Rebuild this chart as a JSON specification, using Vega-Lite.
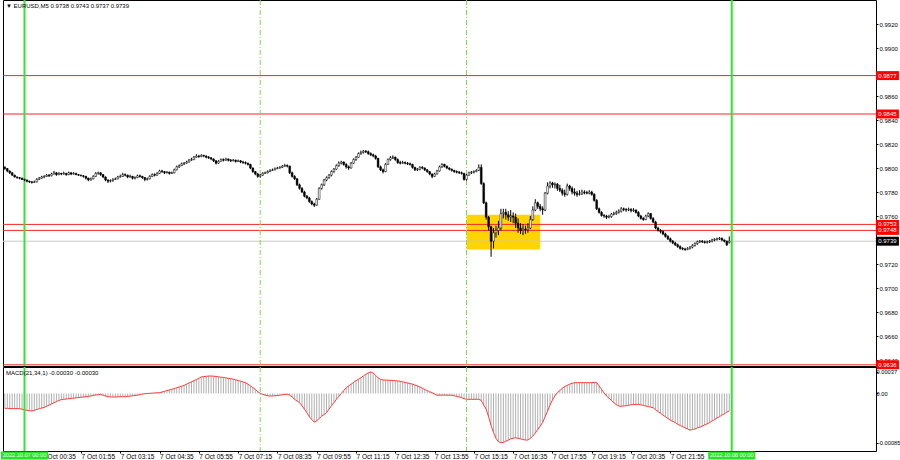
{
"$schema": "https://vega.github.io/schema/vega-lite/v6.json",
"padding": {"left": 0, "top": -2, "right": 0, "bottom": 0},
"background": "#ffffff",
"spacing": 1,
"bounds": "flush",
"config": {"view": {"stroke": "#000000", "strokeWidth": 1}, "font": "Liberation Sans"},
"datasets": {
"levels": [{"p":0.9877,"kind":"level"},{"p":0.9845,"kind":"level"},{"p":0.9753,"kind":"level"},{"p":0.9748,"kind":"level"},{"p":0.9636,"kind":"level"},{"p":0.9739,"kind":"bid"}],
"days": [{"t":"2022-10-07T00:00"},{"t":"2022-10-08T00:00"}],
"seps": [{"t":"2022-10-07T08:00"},{"t":"2022-10-07T15:00"}],
"bars": [
{"t":"2022-10-06T23:20","o":0.98005,"h":0.98015,"l":0.97985,"c":0.97995,"m":-0.000255},
{"t":"2022-10-06T23:25","o":0.97995,"h":0.98000,"l":0.97965,"c":0.97975,"m":-0.000255},
{"t":"2022-10-06T23:30","o":0.97975,"h":0.97980,"l":0.97950,"c":0.97960,"m":-0.000258},
{"t":"2022-10-06T23:35","o":0.97960,"h":0.97965,"l":0.97935,"c":0.97940,"m":-0.00026},
{"t":"2022-10-06T23:40","o":0.97940,"h":0.97945,"l":0.97920,"c":0.97925,"m":-0.00026},
{"t":"2022-10-06T23:45","o":0.97925,"h":0.97930,"l":0.97910,"c":0.97920,"m":-0.00026},
{"t":"2022-10-06T23:50","o":0.97920,"h":0.97925,"l":0.97905,"c":0.97915,"m":-0.00026},
{"t":"2022-10-06T23:55","o":0.97915,"h":0.97920,"l":0.97900,"c":0.97905,"m":-0.00027},
{"t":"2022-10-07T00:00","o":0.97905,"h":0.97910,"l":0.97890,"c":0.97900,"m":-0.00028},
{"t":"2022-10-07T00:05","o":0.97900,"h":0.97905,"l":0.97880,"c":0.97890,"m":-0.00029},
{"t":"2022-10-07T00:10","o":0.97890,"h":0.97895,"l":0.97875,"c":0.97885,"m":-0.000295},
{"t":"2022-10-07T00:15","o":0.97885,"h":0.97890,"l":0.97870,"c":0.97880,"m":-0.0003},
{"t":"2022-10-07T00:20","o":0.97880,"h":0.97895,"l":0.97875,"c":0.97885,"m":-0.00029},
{"t":"2022-10-07T00:25","o":0.97885,"h":0.97915,"l":0.97880,"c":0.97905,"m":-0.000275},
{"t":"2022-10-07T00:30","o":0.97905,"h":0.97925,"l":0.97900,"c":0.97915,"m":-0.000262},
{"t":"2022-10-07T00:35","o":0.97915,"h":0.97935,"l":0.97910,"c":0.97925,"m":-0.00025},
{"t":"2022-10-07T00:40","o":0.97925,"h":0.97940,"l":0.97915,"c":0.97930,"m":-0.00024},
{"t":"2022-10-07T00:45","o":0.97930,"h":0.97950,"l":0.97925,"c":0.97940,"m":-0.00022},
{"t":"2022-10-07T00:50","o":0.97940,"h":0.97950,"l":0.97925,"c":0.97935,"m":-0.0002},
{"t":"2022-10-07T00:55","o":0.97935,"h":0.97960,"l":0.97930,"c":0.97950,"m":-0.00018},
{"t":"2022-10-07T01:00","o":0.97950,"h":0.97975,"l":0.97945,"c":0.97960,"m":-0.00016},
{"t":"2022-10-07T01:05","o":0.97960,"h":0.97965,"l":0.97935,"c":0.97945,"m":-0.00014},
{"t":"2022-10-07T01:10","o":0.97945,"h":0.97965,"l":0.97940,"c":0.97955,"m":-0.00012},
{"t":"2022-10-07T01:15","o":0.97955,"h":0.97960,"l":0.97940,"c":0.97950,"m":-0.000105},
{"t":"2022-10-07T01:20","o":0.97950,"h":0.97970,"l":0.97945,"c":0.97955,"m":-0.0001},
{"t":"2022-10-07T01:25","o":0.97955,"h":0.97960,"l":0.97935,"c":0.97945,"m":-0.000095},
{"t":"2022-10-07T01:30","o":0.97945,"h":0.97970,"l":0.97940,"c":0.97960,"m":-0.00009},
{"t":"2022-10-07T01:35","o":0.97960,"h":0.97965,"l":0.97940,"c":0.97950,"m":-0.000085},
{"t":"2022-10-07T01:40","o":0.97950,"h":0.97965,"l":0.97945,"c":0.97955,"m":-0.00008},
{"t":"2022-10-07T01:45","o":0.97955,"h":0.97960,"l":0.97940,"c":0.97945,"m":-0.000075},
{"t":"2022-10-07T01:50","o":0.97945,"h":0.97950,"l":0.97935,"c":0.97940,"m":-0.00007},
{"t":"2022-10-07T01:55","o":0.97940,"h":0.97945,"l":0.97930,"c":0.97935,"m":-0.000065},
{"t":"2022-10-07T02:00","o":0.97935,"h":0.97940,"l":0.97920,"c":0.97930,"m":-0.00006},
{"t":"2022-10-07T02:05","o":0.97930,"h":0.97935,"l":0.97905,"c":0.97915,"m":-0.000055},
{"t":"2022-10-07T02:10","o":0.97915,"h":0.97920,"l":0.97890,"c":0.97900,"m":-0.00005},
{"t":"2022-10-07T02:15","o":0.97900,"h":0.97920,"l":0.97895,"c":0.97910,"m":-0.000042},
{"t":"2022-10-07T02:20","o":0.97910,"h":0.97940,"l":0.97905,"c":0.97930,"m":-0.000034},
{"t":"2022-10-07T02:25","o":0.97930,"h":0.97965,"l":0.97925,"c":0.97955,"m":-0.000026},
{"t":"2022-10-07T02:30","o":0.97955,"h":0.97970,"l":0.97945,"c":0.97960,"m":-0.00002},
{"t":"2022-10-07T02:35","o":0.97960,"h":0.97965,"l":0.97935,"c":0.97945,"m":-0.000014},
{"t":"2022-10-07T02:40","o":0.97945,"h":0.97950,"l":0.97915,"c":0.97925,"m":-0.00003},
{"t":"2022-10-07T02:45","o":0.97925,"h":0.97930,"l":0.97890,"c":0.97900,"m":-0.000045},
{"t":"2022-10-07T02:50","o":0.97900,"h":0.97905,"l":0.97875,"c":0.97890,"m":-0.000055},
{"t":"2022-10-07T02:55","o":0.97890,"h":0.97905,"l":0.97880,"c":0.97895,"m":-0.00006},
{"t":"2022-10-07T03:00","o":0.97895,"h":0.97915,"l":0.97885,"c":0.97905,"m":-0.00006},
{"t":"2022-10-07T03:05","o":0.97905,"h":0.97920,"l":0.97900,"c":0.97910,"m":-0.00006},
{"t":"2022-10-07T03:10","o":0.97910,"h":0.97935,"l":0.97905,"c":0.97925,"m":-0.000058},
{"t":"2022-10-07T03:15","o":0.97925,"h":0.97945,"l":0.97920,"c":0.97930,"m":-0.000056},
{"t":"2022-10-07T03:20","o":0.97930,"h":0.97960,"l":0.97925,"c":0.97945,"m":-0.000055},
{"t":"2022-10-07T03:25","o":0.97945,"h":0.97955,"l":0.97930,"c":0.97940,"m":-0.000055},
{"t":"2022-10-07T03:30","o":0.97940,"h":0.97945,"l":0.97915,"c":0.97925,"m":-0.00005},
{"t":"2022-10-07T03:35","o":0.97925,"h":0.97945,"l":0.97920,"c":0.97930,"m":-0.000045},
{"t":"2022-10-07T03:40","o":0.97930,"h":0.97935,"l":0.97905,"c":0.97915,"m":-0.00004},
{"t":"2022-10-07T03:45","o":0.97915,"h":0.97930,"l":0.97905,"c":0.97920,"m":-0.000035},
{"t":"2022-10-07T03:50","o":0.97920,"h":0.97945,"l":0.97915,"c":0.97935,"m":-0.000028},
{"t":"2022-10-07T03:55","o":0.97935,"h":0.97945,"l":0.97920,"c":0.97930,"m":-0.00002},
{"t":"2022-10-07T04:00","o":0.97930,"h":0.97935,"l":0.97910,"c":0.97920,"m":-0.00001},
{"t":"2022-10-07T04:05","o":0.97920,"h":0.97925,"l":0.97890,"c":0.97905,"m":-0.000003},
{"t":"2022-10-07T04:10","o":0.97905,"h":0.97920,"l":0.97895,"c":0.97910,"m":0.0},
{"t":"2022-10-07T04:15","o":0.97910,"h":0.97940,"l":0.97905,"c":0.97930,"m":0.000003},
{"t":"2022-10-07T04:20","o":0.97930,"h":0.97955,"l":0.97925,"c":0.97945,"m":0.000006},
{"t":"2022-10-07T04:25","o":0.97945,"h":0.97955,"l":0.97930,"c":0.97940,"m":0.000009},
{"t":"2022-10-07T04:30","o":0.97940,"h":0.97965,"l":0.97935,"c":0.97955,"m":0.000012},
{"t":"2022-10-07T04:35","o":0.97955,"h":0.97985,"l":0.97950,"c":0.97975,"m":0.000014},
{"t":"2022-10-07T04:40","o":0.97975,"h":0.97985,"l":0.97960,"c":0.97970,"m":0.000025},
{"t":"2022-10-07T04:45","o":0.97970,"h":0.97975,"l":0.97950,"c":0.97960,"m":0.000037},
{"t":"2022-10-07T04:50","o":0.97960,"h":0.97975,"l":0.97955,"c":0.97965,"m":0.00005},
{"t":"2022-10-07T04:55","o":0.97965,"h":0.97970,"l":0.97945,"c":0.97955,"m":0.00006},
{"t":"2022-10-07T05:00","o":0.97955,"h":0.97970,"l":0.97950,"c":0.97960,"m":0.000072},
{"t":"2022-10-07T05:05","o":0.97960,"h":0.97995,"l":0.97955,"c":0.97985,"m":0.000085},
{"t":"2022-10-07T05:10","o":0.97985,"h":0.98020,"l":0.97980,"c":0.98010,"m":0.0001},
{"t":"2022-10-07T05:15","o":0.98010,"h":0.98030,"l":0.98000,"c":0.98020,"m":0.000112},
{"t":"2022-10-07T05:20","o":0.98020,"h":0.98045,"l":0.98015,"c":0.98035,"m":0.000125},
{"t":"2022-10-07T05:25","o":0.98035,"h":0.98050,"l":0.98025,"c":0.98040,"m":0.00014},
{"t":"2022-10-07T05:30","o":0.98040,"h":0.98060,"l":0.98035,"c":0.98050,"m":0.00016},
{"t":"2022-10-07T05:35","o":0.98050,"h":0.98075,"l":0.98045,"c":0.98065,"m":0.00018},
{"t":"2022-10-07T05:40","o":0.98065,"h":0.98085,"l":0.98060,"c":0.98070,"m":0.0002},
{"t":"2022-10-07T05:45","o":0.98070,"h":0.98100,"l":0.98065,"c":0.98090,"m":0.00022},
{"t":"2022-10-07T05:50","o":0.98090,"h":0.98115,"l":0.98085,"c":0.98100,"m":0.00024},
{"t":"2022-10-07T05:55","o":0.98100,"h":0.98110,"l":0.98085,"c":0.98095,"m":0.00026},
{"t":"2022-10-07T06:00","o":0.98095,"h":0.98115,"l":0.98090,"c":0.98105,"m":0.000285},
{"t":"2022-10-07T06:05","o":0.98105,"h":0.98110,"l":0.98090,"c":0.98100,"m":0.00029},
{"t":"2022-10-07T06:10","o":0.98100,"h":0.98105,"l":0.98080,"c":0.98090,"m":0.000295},
{"t":"2022-10-07T06:15","o":0.98090,"h":0.98100,"l":0.98075,"c":0.98085,"m":0.0003},
{"t":"2022-10-07T06:20","o":0.98085,"h":0.98090,"l":0.98065,"c":0.98075,"m":0.0003},
{"t":"2022-10-07T06:25","o":0.98075,"h":0.98080,"l":0.98050,"c":0.98060,"m":0.000298},
{"t":"2022-10-07T06:30","o":0.98060,"h":0.98065,"l":0.98030,"c":0.98040,"m":0.000292},
{"t":"2022-10-07T06:35","o":0.98040,"h":0.98065,"l":0.98035,"c":0.98055,"m":0.000286},
{"t":"2022-10-07T06:40","o":0.98055,"h":0.98080,"l":0.98050,"c":0.98070,"m":0.00028},
{"t":"2022-10-07T06:45","o":0.98070,"h":0.98080,"l":0.98055,"c":0.98065,"m":0.000274},
{"t":"2022-10-07T06:50","o":0.98065,"h":0.98085,"l":0.98060,"c":0.98075,"m":0.000268},
{"t":"2022-10-07T06:55","o":0.98075,"h":0.98080,"l":0.98055,"c":0.98065,"m":0.00026},
{"t":"2022-10-07T07:00","o":0.98065,"h":0.98075,"l":0.98050,"c":0.98060,"m":0.000254},
{"t":"2022-10-07T07:05","o":0.98060,"h":0.98075,"l":0.98055,"c":0.98065,"m":0.000245},
{"t":"2022-10-07T07:10","o":0.98065,"h":0.98070,"l":0.98045,"c":0.98055,"m":0.000235},
{"t":"2022-10-07T07:15","o":0.98055,"h":0.98070,"l":0.98050,"c":0.98060,"m":0.000222},
{"t":"2022-10-07T07:20","o":0.98060,"h":0.98065,"l":0.98040,"c":0.98050,"m":0.00021},
{"t":"2022-10-07T07:25","o":0.98050,"h":0.98060,"l":0.98035,"c":0.98045,"m":0.000198},
{"t":"2022-10-07T07:30","o":0.98045,"h":0.98055,"l":0.98030,"c":0.98040,"m":0.000186},
{"t":"2022-10-07T07:35","o":0.98040,"h":0.98045,"l":0.98020,"c":0.98030,"m":0.00016},
{"t":"2022-10-07T07:40","o":0.98030,"h":0.98035,"l":0.97990,"c":0.98000,"m":0.00013},
{"t":"2022-10-07T07:45","o":0.98000,"h":0.98005,"l":0.97960,"c":0.97970,"m":0.0001},
{"t":"2022-10-07T07:50","o":0.97970,"h":0.97975,"l":0.97940,"c":0.97950,"m":0.00007},
{"t":"2022-10-07T07:55","o":0.97950,"h":0.97960,"l":0.97920,"c":0.97930,"m":0.00003},
{"t":"2022-10-07T08:00","o":0.97930,"h":0.97950,"l":0.97920,"c":0.97940,"m":0.000003},
{"t":"2022-10-07T08:05","o":0.97940,"h":0.97965,"l":0.97935,"c":0.97955,"m":-0.000015},
{"t":"2022-10-07T08:10","o":0.97955,"h":0.97970,"l":0.97950,"c":0.97960,"m":-0.00003},
{"t":"2022-10-07T08:15","o":0.97960,"h":0.97980,"l":0.97955,"c":0.97970,"m":-0.00004},
{"t":"2022-10-07T08:20","o":0.97970,"h":0.97990,"l":0.97965,"c":0.97980,"m":-0.000043},
{"t":"2022-10-07T08:25","o":0.97980,"h":0.97995,"l":0.97975,"c":0.97985,"m":-0.000042},
{"t":"2022-10-07T08:30","o":0.97985,"h":0.98005,"l":0.97980,"c":0.97995,"m":-0.00004},
{"t":"2022-10-07T08:35","o":0.97995,"h":0.98010,"l":0.97990,"c":0.98000,"m":-0.000035},
{"t":"2022-10-07T08:40","o":0.98000,"h":0.98015,"l":0.97995,"c":0.98005,"m":-0.00003},
{"t":"2022-10-07T08:45","o":0.98005,"h":0.98025,"l":0.98000,"c":0.98015,"m":-0.000022},
{"t":"2022-10-07T08:50","o":0.98015,"h":0.98035,"l":0.98010,"c":0.98020,"m":-0.000016},
{"t":"2022-10-07T08:55","o":0.98020,"h":0.98030,"l":0.98005,"c":0.98015,"m":-0.000014},
{"t":"2022-10-07T09:00","o":0.98015,"h":0.98020,"l":0.97950,"c":0.97960,"m":-0.00003},
{"t":"2022-10-07T09:05","o":0.97960,"h":0.97970,"l":0.97920,"c":0.97930,"m":-0.00006},
{"t":"2022-10-07T09:10","o":0.97930,"h":0.97940,"l":0.97900,"c":0.97910,"m":-0.0001},
{"t":"2022-10-07T09:15","o":0.97910,"h":0.97915,"l":0.97850,"c":0.97860,"m":-0.00013},
{"t":"2022-10-07T09:20","o":0.97860,"h":0.97870,"l":0.97820,"c":0.97830,"m":-0.000158},
{"t":"2022-10-07T09:25","o":0.97830,"h":0.97840,"l":0.97790,"c":0.97800,"m":-0.00021},
{"t":"2022-10-07T09:30","o":0.97800,"h":0.97810,"l":0.97755,"c":0.97765,"m":-0.00027},
{"t":"2022-10-07T09:35","o":0.97765,"h":0.97775,"l":0.97740,"c":0.97750,"m":-0.00033},
{"t":"2022-10-07T09:40","o":0.97750,"h":0.97760,"l":0.97710,"c":0.97720,"m":-0.0004},
{"t":"2022-10-07T09:45","o":0.97720,"h":0.97730,"l":0.97690,"c":0.97700,"m":-0.00045},
{"t":"2022-10-07T09:50","o":0.97700,"h":0.97710,"l":0.97675,"c":0.97690,"m":-0.00049},
{"t":"2022-10-07T09:55","o":0.97690,"h":0.97750,"l":0.97685,"c":0.97740,"m":-0.00047},
{"t":"2022-10-07T10:00","o":0.97740,"h":0.97840,"l":0.97735,"c":0.97830,"m":-0.00043},
{"t":"2022-10-07T10:05","o":0.97830,"h":0.97870,"l":0.97820,"c":0.97860,"m":-0.00039},
{"t":"2022-10-07T10:10","o":0.97860,"h":0.97910,"l":0.97850,"c":0.97900,"m":-0.00036},
{"t":"2022-10-07T10:15","o":0.97900,"h":0.97930,"l":0.97890,"c":0.97920,"m":-0.00033},
{"t":"2022-10-07T10:20","o":0.97920,"h":0.97950,"l":0.97910,"c":0.97940,"m":-0.00027},
{"t":"2022-10-07T10:25","o":0.97940,"h":0.97980,"l":0.97930,"c":0.97970,"m":-0.00021},
{"t":"2022-10-07T10:30","o":0.97970,"h":0.98000,"l":0.97960,"c":0.97990,"m":-0.00016},
{"t":"2022-10-07T10:35","o":0.97990,"h":0.98030,"l":0.97985,"c":0.98020,"m":-0.0001},
{"t":"2022-10-07T10:40","o":0.98020,"h":0.98055,"l":0.98010,"c":0.98040,"m":-0.00005},
{"t":"2022-10-07T10:45","o":0.98040,"h":0.98060,"l":0.98030,"c":0.98050,"m":0.0},
{"t":"2022-10-07T10:50","o":0.98050,"h":0.98055,"l":0.98020,"c":0.98030,"m":0.00005},
{"t":"2022-10-07T10:55","o":0.98030,"h":0.98040,"l":0.97995,"c":0.98010,"m":0.0001},
{"t":"2022-10-07T11:00","o":0.98010,"h":0.98020,"l":0.97985,"c":0.98000,"m":0.00013},
{"t":"2022-10-07T11:05","o":0.98000,"h":0.98050,"l":0.97995,"c":0.98040,"m":0.00016},
{"t":"2022-10-07T11:10","o":0.98040,"h":0.98080,"l":0.98035,"c":0.98070,"m":0.00019},
{"t":"2022-10-07T11:15","o":0.98070,"h":0.98100,"l":0.98060,"c":0.98090,"m":0.00022},
{"t":"2022-10-07T11:20","o":0.98090,"h":0.98130,"l":0.98085,"c":0.98120,"m":0.000244},
{"t":"2022-10-07T11:25","o":0.98120,"h":0.98145,"l":0.98110,"c":0.98130,"m":0.00027},
{"t":"2022-10-07T11:30","o":0.98130,"h":0.98150,"l":0.98120,"c":0.98140,"m":0.0003},
{"t":"2022-10-07T11:35","o":0.98140,"h":0.98150,"l":0.98125,"c":0.98135,"m":0.00033},
{"t":"2022-10-07T11:40","o":0.98135,"h":0.98145,"l":0.98110,"c":0.98120,"m":0.000355},
{"t":"2022-10-07T11:45","o":0.98120,"h":0.98130,"l":0.98100,"c":0.98110,"m":0.00037},
{"t":"2022-10-07T11:50","o":0.98110,"h":0.98120,"l":0.98090,"c":0.98100,"m":0.00035},
{"t":"2022-10-07T11:55","o":0.98100,"h":0.98110,"l":0.98070,"c":0.98080,"m":0.00031},
{"t":"2022-10-07T12:00","o":0.98080,"h":0.98085,"l":0.98000,"c":0.98010,"m":0.00027},
{"t":"2022-10-07T12:05","o":0.98010,"h":0.98020,"l":0.97975,"c":0.97985,"m":0.00024},
{"t":"2022-10-07T12:10","o":0.97985,"h":0.97995,"l":0.97955,"c":0.97970,"m":0.000232},
{"t":"2022-10-07T12:15","o":0.97970,"h":0.98040,"l":0.97965,"c":0.98030,"m":0.00023},
{"t":"2022-10-07T12:20","o":0.98030,"h":0.98080,"l":0.98025,"c":0.98070,"m":0.000228},
{"t":"2022-10-07T12:25","o":0.98070,"h":0.98100,"l":0.98060,"c":0.98085,"m":0.000226},
{"t":"2022-10-07T12:30","o":0.98085,"h":0.98105,"l":0.98075,"c":0.98090,"m":0.000224},
{"t":"2022-10-07T12:35","o":0.98090,"h":0.98095,"l":0.98060,"c":0.98070,"m":0.00022},
{"t":"2022-10-07T12:40","o":0.98070,"h":0.98080,"l":0.98035,"c":0.98045,"m":0.000215},
{"t":"2022-10-07T12:45","o":0.98045,"h":0.98060,"l":0.98030,"c":0.98040,"m":0.00021},
{"t":"2022-10-07T12:50","o":0.98040,"h":0.98060,"l":0.98035,"c":0.98045,"m":0.0002},
{"t":"2022-10-07T12:55","o":0.98045,"h":0.98055,"l":0.98030,"c":0.98040,"m":0.00019},
{"t":"2022-10-07T13:00","o":0.98040,"h":0.98050,"l":0.98025,"c":0.98035,"m":0.00018},
{"t":"2022-10-07T13:05","o":0.98035,"h":0.98045,"l":0.98020,"c":0.98030,"m":0.00017},
{"t":"2022-10-07T13:10","o":0.98030,"h":0.98035,"l":0.97995,"c":0.98005,"m":0.00016},
{"t":"2022-10-07T13:15","o":0.98005,"h":0.98010,"l":0.97975,"c":0.97985,"m":0.000145},
{"t":"2022-10-07T13:20","o":0.97985,"h":0.98000,"l":0.97975,"c":0.97990,"m":0.00013},
{"t":"2022-10-07T13:25","o":0.97990,"h":0.98015,"l":0.97980,"c":0.98005,"m":0.000112},
{"t":"2022-10-07T13:30","o":0.98005,"h":0.98015,"l":0.97990,"c":0.98000,"m":0.00009},
{"t":"2022-10-07T13:35","o":0.98000,"h":0.98005,"l":0.97975,"c":0.97985,"m":0.00007},
{"t":"2022-10-07T13:40","o":0.97985,"h":0.97990,"l":0.97960,"c":0.97970,"m":0.00005},
{"t":"2022-10-07T13:45","o":0.97970,"h":0.97975,"l":0.97940,"c":0.97950,"m":0.00003},
{"t":"2022-10-07T13:50","o":0.97950,"h":0.97955,"l":0.97915,"c":0.97930,"m":0.000014},
{"t":"2022-10-07T13:55","o":0.97930,"h":0.97960,"l":0.97925,"c":0.97950,"m":-0.00001},
{"t":"2022-10-07T14:00","o":0.97950,"h":0.97985,"l":0.97945,"c":0.97975,"m":-0.00003},
{"t":"2022-10-07T14:05","o":0.97975,"h":0.98020,"l":0.97970,"c":0.98010,"m":-0.00003},
{"t":"2022-10-07T14:10","o":0.98010,"h":0.98040,"l":0.98000,"c":0.98030,"m":-0.000028},
{"t":"2022-10-07T14:15","o":0.98030,"h":0.98035,"l":0.98005,"c":0.98015,"m":-0.000028},
{"t":"2022-10-07T14:20","o":0.98015,"h":0.98020,"l":0.97990,"c":0.98000,"m":-0.00003},
{"t":"2022-10-07T14:25","o":0.98000,"h":0.98005,"l":0.97980,"c":0.97990,"m":-0.00003},
{"t":"2022-10-07T14:30","o":0.97990,"h":0.97995,"l":0.97970,"c":0.97980,"m":-0.00003},
{"t":"2022-10-07T14:35","o":0.97980,"h":0.97985,"l":0.97960,"c":0.97970,"m":-0.00004},
{"t":"2022-10-07T14:40","o":0.97970,"h":0.97980,"l":0.97955,"c":0.97965,"m":-0.00005},
{"t":"2022-10-07T14:45","o":0.97965,"h":0.97975,"l":0.97950,"c":0.97960,"m":-0.00006},
{"t":"2022-10-07T14:50","o":0.97960,"h":0.97970,"l":0.97945,"c":0.97955,"m":-0.00007},
{"t":"2022-10-07T14:55","o":0.97955,"h":0.97960,"l":0.97895,"c":0.97905,"m":-0.00009},
{"t":"2022-10-07T15:00","o":0.97905,"h":0.97950,"l":0.97895,"c":0.97940,"m":-0.0001},
{"t":"2022-10-07T15:05","o":0.97940,"h":0.97970,"l":0.97935,"c":0.97960,"m":-0.0001},
{"t":"2022-10-07T15:10","o":0.97960,"h":0.97975,"l":0.97950,"c":0.97965,"m":-0.0001},
{"t":"2022-10-07T15:15","o":0.97965,"h":0.97980,"l":0.97955,"c":0.97970,"m":-0.0001},
{"t":"2022-10-07T15:20","o":0.97970,"h":0.97990,"l":0.97965,"c":0.97980,"m":-0.0001},
{"t":"2022-10-07T15:25","o":0.97980,"h":0.98030,"l":0.97975,"c":0.98005,"m":-0.0001},
{"t":"2022-10-07T15:30","o":0.98005,"h":0.98030,"l":0.97860,"c":0.97870,"m":-0.00012},
{"t":"2022-10-07T15:35","o":0.97870,"h":0.97880,"l":0.97700,"c":0.97710,"m":-0.0002},
{"t":"2022-10-07T15:40","o":0.97710,"h":0.97720,"l":0.97570,"c":0.97590,"m":-0.00027},
{"t":"2022-10-07T15:45","o":0.97590,"h":0.97600,"l":0.97480,"c":0.97510,"m":-0.0004},
{"t":"2022-10-07T15:50","o":0.97510,"h":0.97520,"l":0.97260,"c":0.97390,"m":-0.00055},
{"t":"2022-10-07T15:55","o":0.97390,"h":0.97500,"l":0.97330,"c":0.97460,"m":-0.00067},
{"t":"2022-10-07T16:00","o":0.97460,"h":0.97520,"l":0.97420,"c":0.97480,"m":-0.00077},
{"t":"2022-10-07T16:05","o":0.97480,"h":0.97560,"l":0.97440,"c":0.97500,"m":-0.00083},
{"t":"2022-10-07T16:10","o":0.97500,"h":0.97660,"l":0.97480,"c":0.97620,"m":-0.000845},
{"t":"2022-10-07T16:15","o":0.97620,"h":0.97660,"l":0.97580,"c":0.97630,"m":-0.00084},
{"t":"2022-10-07T16:20","o":0.97630,"h":0.97660,"l":0.97570,"c":0.97610,"m":-0.00082},
{"t":"2022-10-07T16:25","o":0.97610,"h":0.97640,"l":0.97560,"c":0.97590,"m":-0.0008},
{"t":"2022-10-07T16:30","o":0.97590,"h":0.97650,"l":0.97550,"c":0.97600,"m":-0.00078},
{"t":"2022-10-07T16:35","o":0.97600,"h":0.97630,"l":0.97540,"c":0.97590,"m":-0.00077},
{"t":"2022-10-07T16:40","o":0.97590,"h":0.97620,"l":0.97500,"c":0.97540,"m":-0.00076},
{"t":"2022-10-07T16:45","o":0.97540,"h":0.97580,"l":0.97460,"c":0.97500,"m":-0.00077},
{"t":"2022-10-07T16:50","o":0.97500,"h":0.97540,"l":0.97450,"c":0.97480,"m":-0.00078},
{"t":"2022-10-07T16:55","o":0.97480,"h":0.97530,"l":0.97440,"c":0.97490,"m":-0.00079},
{"t":"2022-10-07T17:00","o":0.97490,"h":0.97520,"l":0.97450,"c":0.97485,"m":-0.0008},
{"t":"2022-10-07T17:05","o":0.97485,"h":0.97540,"l":0.97460,"c":0.97500,"m":-0.0008},
{"t":"2022-10-07T17:10","o":0.97500,"h":0.97600,"l":0.97490,"c":0.97570,"m":-0.00077},
{"t":"2022-10-07T17:15","o":0.97570,"h":0.97680,"l":0.97560,"c":0.97650,"m":-0.00073},
{"t":"2022-10-07T17:20","o":0.97650,"h":0.97740,"l":0.97640,"c":0.97710,"m":-0.00068},
{"t":"2022-10-07T17:25","o":0.97710,"h":0.97720,"l":0.97660,"c":0.97680,"m":-0.00062},
{"t":"2022-10-07T17:30","o":0.97680,"h":0.97700,"l":0.97640,"c":0.97660,"m":-0.00056},
{"t":"2022-10-07T17:35","o":0.97660,"h":0.97680,"l":0.97610,"c":0.97650,"m":-0.0005},
{"t":"2022-10-07T17:40","o":0.97650,"h":0.97800,"l":0.97640,"c":0.97790,"m":-0.0004},
{"t":"2022-10-07T17:45","o":0.97790,"h":0.97880,"l":0.97780,"c":0.97850,"m":-0.0003},
{"t":"2022-10-07T17:50","o":0.97850,"h":0.97890,"l":0.97830,"c":0.97875,"m":-0.0002},
{"t":"2022-10-07T17:55","o":0.97875,"h":0.97885,"l":0.97835,"c":0.97860,"m":-0.00011},
{"t":"2022-10-07T18:00","o":0.97860,"h":0.97880,"l":0.97830,"c":0.97865,"m":-0.00004},
{"t":"2022-10-07T18:05","o":0.97865,"h":0.97875,"l":0.97810,"c":0.97830,"m":0.000014},
{"t":"2022-10-07T18:10","o":0.97830,"h":0.97860,"l":0.97800,"c":0.97815,"m":0.00005},
{"t":"2022-10-07T18:15","o":0.97815,"h":0.97830,"l":0.97770,"c":0.97790,"m":0.00009},
{"t":"2022-10-07T18:20","o":0.97790,"h":0.97820,"l":0.97760,"c":0.97780,"m":0.00012},
{"t":"2022-10-07T18:25","o":0.97780,"h":0.97870,"l":0.97770,"c":0.97850,"m":0.00014},
{"t":"2022-10-07T18:30","o":0.97850,"h":0.97860,"l":0.97810,"c":0.97830,"m":0.00016},
{"t":"2022-10-07T18:35","o":0.97830,"h":0.97845,"l":0.97780,"c":0.97800,"m":0.000175},
{"t":"2022-10-07T18:40","o":0.97800,"h":0.97830,"l":0.97770,"c":0.97790,"m":0.000185},
{"t":"2022-10-07T18:45","o":0.97790,"h":0.97810,"l":0.97760,"c":0.97780,"m":0.000186},
{"t":"2022-10-07T18:50","o":0.97780,"h":0.97815,"l":0.97770,"c":0.97785,"m":0.000186},
{"t":"2022-10-07T18:55","o":0.97785,"h":0.97820,"l":0.97775,"c":0.97800,"m":0.000186},
{"t":"2022-10-07T19:00","o":0.97800,"h":0.97815,"l":0.97780,"c":0.97795,"m":0.000186},
{"t":"2022-10-07T19:05","o":0.97795,"h":0.97810,"l":0.97780,"c":0.97790,"m":0.000186},
{"t":"2022-10-07T19:10","o":0.97790,"h":0.97815,"l":0.97780,"c":0.97800,"m":0.000186},
{"t":"2022-10-07T19:15","o":0.97800,"h":0.97810,"l":0.97770,"c":0.97780,"m":0.000186},
{"t":"2022-10-07T19:20","o":0.97780,"h":0.97790,"l":0.97720,"c":0.97730,"m":0.00019},
{"t":"2022-10-07T19:25","o":0.97730,"h":0.97740,"l":0.97650,"c":0.97660,"m":0.000186},
{"t":"2022-10-07T19:30","o":0.97660,"h":0.97670,"l":0.97620,"c":0.97630,"m":0.00013},
{"t":"2022-10-07T19:35","o":0.97630,"h":0.97640,"l":0.97595,"c":0.97605,"m":0.00007},
{"t":"2022-10-07T19:40","o":0.97605,"h":0.97615,"l":0.97585,"c":0.97600,"m":0.00001},
{"t":"2022-10-07T19:45","o":0.97600,"h":0.97610,"l":0.97575,"c":0.97590,"m":-0.000043},
{"t":"2022-10-07T19:50","o":0.97590,"h":0.97610,"l":0.97580,"c":0.97595,"m":-0.00008},
{"t":"2022-10-07T19:55","o":0.97595,"h":0.97625,"l":0.97585,"c":0.97615,"m":-0.00012},
{"t":"2022-10-07T20:00","o":0.97615,"h":0.97635,"l":0.97605,"c":0.97620,"m":-0.00016},
{"t":"2022-10-07T20:05","o":0.97620,"h":0.97645,"l":0.97610,"c":0.97630,"m":-0.00019},
{"t":"2022-10-07T20:10","o":0.97630,"h":0.97655,"l":0.97620,"c":0.97640,"m":-0.000215},
{"t":"2022-10-07T20:15","o":0.97640,"h":0.97675,"l":0.97630,"c":0.97660,"m":-0.00022},
{"t":"2022-10-07T20:20","o":0.97660,"h":0.97670,"l":0.97640,"c":0.97655,"m":-0.000215},
{"t":"2022-10-07T20:25","o":0.97655,"h":0.97665,"l":0.97635,"c":0.97650,"m":-0.00021},
{"t":"2022-10-07T20:30","o":0.97650,"h":0.97670,"l":0.97640,"c":0.97655,"m":-0.0002},
{"t":"2022-10-07T20:35","o":0.97655,"h":0.97665,"l":0.97630,"c":0.97645,"m":-0.000195},
{"t":"2022-10-07T20:40","o":0.97645,"h":0.97665,"l":0.97635,"c":0.97650,"m":-0.00019},
{"t":"2022-10-07T20:45","o":0.97650,"h":0.97655,"l":0.97620,"c":0.97630,"m":-0.000188},
{"t":"2022-10-07T20:50","o":0.97630,"h":0.97640,"l":0.97590,"c":0.97600,"m":-0.000186},
{"t":"2022-10-07T20:55","o":0.97600,"h":0.97610,"l":0.97570,"c":0.97580,"m":-0.000195},
{"t":"2022-10-07T21:00","o":0.97580,"h":0.97590,"l":0.97560,"c":0.97570,"m":-0.000205},
{"t":"2022-10-07T21:05","o":0.97570,"h":0.97610,"l":0.97565,"c":0.97600,"m":-0.000215},
{"t":"2022-10-07T21:10","o":0.97600,"h":0.97630,"l":0.97590,"c":0.97620,"m":-0.000225},
{"t":"2022-10-07T21:15","o":0.97620,"h":0.97625,"l":0.97570,"c":0.97580,"m":-0.000235},
{"t":"2022-10-07T21:20","o":0.97580,"h":0.97590,"l":0.97540,"c":0.97550,"m":-0.000244},
{"t":"2022-10-07T21:25","o":0.97550,"h":0.97560,"l":0.97490,"c":0.97500,"m":-0.00028},
{"t":"2022-10-07T21:30","o":0.97500,"h":0.97510,"l":0.97470,"c":0.97480,"m":-0.00031},
{"t":"2022-10-07T21:35","o":0.97480,"h":0.97490,"l":0.97455,"c":0.97470,"m":-0.00034},
{"t":"2022-10-07T21:40","o":0.97470,"h":0.97480,"l":0.97440,"c":0.97450,"m":-0.00037},
{"t":"2022-10-07T21:45","o":0.97450,"h":0.97460,"l":0.97420,"c":0.97430,"m":-0.0004},
{"t":"2022-10-07T21:50","o":0.97430,"h":0.97440,"l":0.97400,"c":0.97410,"m":-0.00043},
{"t":"2022-10-07T21:55","o":0.97410,"h":0.97420,"l":0.97380,"c":0.97390,"m":-0.00046},
{"t":"2022-10-07T22:00","o":0.97390,"h":0.97400,"l":0.97365,"c":0.97375,"m":-0.00048},
{"t":"2022-10-07T22:05","o":0.97375,"h":0.97385,"l":0.97350,"c":0.97360,"m":-0.0005},
{"t":"2022-10-07T22:10","o":0.97360,"h":0.97370,"l":0.97335,"c":0.97345,"m":-0.00053},
{"t":"2022-10-07T22:15","o":0.97345,"h":0.97355,"l":0.97320,"c":0.97330,"m":-0.00055},
{"t":"2022-10-07T22:20","o":0.97330,"h":0.97340,"l":0.97315,"c":0.97325,"m":-0.00057},
{"t":"2022-10-07T22:25","o":0.97325,"h":0.97335,"l":0.97310,"c":0.97320,"m":-0.00059},
{"t":"2022-10-07T22:30","o":0.97320,"h":0.97340,"l":0.97315,"c":0.97330,"m":-0.00061},
{"t":"2022-10-07T22:35","o":0.97330,"h":0.97350,"l":0.97320,"c":0.97340,"m":-0.00063},
{"t":"2022-10-07T22:40","o":0.97340,"h":0.97365,"l":0.97330,"c":0.97355,"m":-0.00062},
{"t":"2022-10-07T22:45","o":0.97355,"h":0.97380,"l":0.97345,"c":0.97370,"m":-0.00061},
{"t":"2022-10-07T22:50","o":0.97370,"h":0.97395,"l":0.97360,"c":0.97385,"m":-0.00059},
{"t":"2022-10-07T22:55","o":0.97385,"h":0.97400,"l":0.97375,"c":0.97390,"m":-0.00058},
{"t":"2022-10-07T23:00","o":0.97390,"h":0.97400,"l":0.97375,"c":0.97385,"m":-0.00056},
{"t":"2022-10-07T23:05","o":0.97385,"h":0.97395,"l":0.97370,"c":0.97380,"m":-0.00054},
{"t":"2022-10-07T23:10","o":0.97380,"h":0.97395,"l":0.97370,"c":0.97385,"m":-0.00052},
{"t":"2022-10-07T23:15","o":0.97385,"h":0.97400,"l":0.97375,"c":0.97390,"m":-0.0005},
{"t":"2022-10-07T23:20","o":0.97390,"h":0.97410,"l":0.97380,"c":0.97400,"m":-0.00047},
{"t":"2022-10-07T23:25","o":0.97400,"h":0.97415,"l":0.97390,"c":0.97405,"m":-0.00045},
{"t":"2022-10-07T23:30","o":0.97405,"h":0.97420,"l":0.97395,"c":0.97410,"m":-0.00042},
{"t":"2022-10-07T23:35","o":0.97410,"h":0.97425,"l":0.97400,"c":0.97415,"m":-0.0004},
{"t":"2022-10-07T23:40","o":0.97415,"h":0.97420,"l":0.97390,"c":0.97400,"m":-0.00037},
{"t":"2022-10-07T23:45","o":0.97400,"h":0.97405,"l":0.97380,"c":0.97390,"m":-0.00035},
{"t":"2022-10-07T23:50","o":0.97390,"h":0.97395,"l":0.97350,"c":0.97360,"m":-0.00032},
{"t":"2022-10-07T23:55","o":0.97380,"h":0.97430,"l":0.97370,"c":0.97390,"m":-0.0003}
]
},
"vconcat": [
{
"width": 873,
"height": 366,
"resolve": {"axis": {"y": "independent"}},
"layer": [
{"data": {"values": [{"t1":"2022-10-07T15:00","t2":"2022-10-07T17:30","p1":0.9732,"p2":0.9761}]},
 "mark": {"type": "rect", "color": "#ffd400"},
 "encoding": {
  "x": {"field": "t1", "type": "temporal", "title": null, "axis": null,
        "scale": {"domain": [{"year":2022,"month":10,"date":6,"hours":23,"minutes":16,"seconds":15},{"year":2022,"month":10,"date":8,"hours":4,"minutes":53,"seconds":45}], "nice": false, "padding": 0}},
  "x2": {"field": "t2"},
  "y": {"field": "p1", "type": "quantitative", "title": null,
        "scale": {"domain": [0.9635, 0.994], "nice": false, "zero": false, "padding": 0},
        "axis": {"orient": "right", "values": [0.964,0.966,0.968,0.97,0.972,0.974,0.976,0.978,0.98,0.982,0.984,0.986,0.99,0.992], "format": ".4f", "labelFontSize": 6, "tickSize": 2, "labelPadding": 1, "grid": false, "domain": false, "tickColor": "#000000", "labelColor": "#000000", "labelFlush": false, "labelOverlap": false, "labelBound": false, "labelBaseline": "middle"}},
  "y2": {"field": "p2"}
 }},
{"data": {"name": "levels"}, "transform": [{"filter": "datum.kind == 'bid'"}],
 "mark": {"type": "rule", "color": "#c8c8c8", "strokeWidth": 1},
 "encoding": {"y": {"field": "p", "type": "quantitative", "title": null, "axis": null}}},
{"data": {"name": "levels"}, "transform": [{"filter": "datum.kind == 'level'"}],
 "mark": {"type": "rule", "color": "#f02828", "strokeWidth": 1},
 "encoding": {"y": {"field": "p", "type": "quantitative", "title": null, "axis": null}}},
{"data": {"name": "seps"},
 "mark": {"type": "rule", "color": "#80d850", "strokeWidth": 1, "strokeDash": [5, 2, 1, 2]},
 "encoding": {"x": {"field": "t", "type": "temporal", "title": null, "axis": null}}},
{"data": {"name": "days"},
 "mark": {"type": "rule", "color": "#2ee82e", "strokeWidth": 2},
 "encoding": {"x": {"field": "t", "type": "temporal", "title": null, "axis": null}}},
{"data": {"name": "bars"},
 "mark": {"type": "rule", "color": "#000000", "strokeWidth": 1},
 "encoding": {"x": {"field": "t", "type": "temporal", "title": null, "axis": null},
  "y": {"field": "l", "type": "quantitative", "title": null, "axis": null}, "y2": {"field": "h"}}},
{"data": {"name": "bars"},
 "mark": {"type": "bar", "size": 1.8, "stroke": "#000000", "strokeWidth": 0.5},
 "encoding": {"x": {"field": "t", "type": "temporal", "title": null, "axis": null},
  "y": {"field": "o", "type": "quantitative", "title": null, "axis": null}, "y2": {"field": "c"},
  "fill": {"condition": {"test": "datum.c < datum.o", "value": "#000000"}, "value": "#ffffff"}}},
{"data": {"name": "levels"},
 "mark": {"type": "point", "shape": "M-1,-0.39L1,-0.39L1,0.39L-1,0.39Z", "filled": true, "size": 529, "opacity": 1, "strokeWidth": 0, "clip": false},
 "encoding": {"x": {"datum": {"year":2022,"month":10,"date":8,"hours":5,"minutes":17}, "type": "temporal", "axis": null},
  "y": {"field": "p", "type": "quantitative", "title": null, "axis": null},
  "color": {"condition": {"test": "datum.kind == 'bid'", "value": "#000000"}, "value": "#ff0000"}}},
{"data": {"name": "levels"},
 "mark": {"type": "text", "color": "#ffffff", "fontSize": 6, "align": "center", "baseline": "middle", "clip": false},
 "encoding": {"x": {"datum": {"year":2022,"month":10,"date":8,"hours":5,"minutes":17}, "type": "temporal", "axis": null},
  "y": {"field": "p", "type": "quantitative", "title": null, "axis": null},
  "text": {"field": "p", "type": "quantitative", "format": ".4f"}}},
{"data": {"values": [{"label": "▼ EURUSD,M5  0.9738 0.9743 0.9737 0.9739"}]},
 "mark": {"type": "text", "color": "#000000", "fontSize": 6, "align": "left", "baseline": "middle", "dx": 3, "dy": 6},
 "encoding": {"x": {"datum": {"year":2022,"month":10,"date":6,"hours":23,"minutes":16,"seconds":15}, "type": "temporal", "axis": null},
  "y": {"datum": 0.994, "type": "quantitative", "axis": null},
  "text": {"field": "label"}}}
]
},
{
"width": 873,
"height": 84,
"layer": [
{"data": {"name": "bars"},
 "mark": {"type": "rule", "color": "#b0b0b0", "strokeWidth": 1},
 "encoding": {
  "x": {"field": "t", "type": "temporal", "title": null,
        "scale": {"domain": [{"year":2022,"month":10,"date":6,"hours":23,"minutes":16,"seconds":15},{"year":2022,"month":10,"date":8,"hours":4,"minutes":53,"seconds":45}], "nice": false, "padding": 0},
        "axis": {"orient": "bottom", "values": [
          {"year":2022,"month":10,"date":7,"hours":0,"minutes":35},
          {"year":2022,"month":10,"date":7,"hours":1,"minutes":55},
          {"year":2022,"month":10,"date":7,"hours":3,"minutes":15},
          {"year":2022,"month":10,"date":7,"hours":4,"minutes":35},
          {"year":2022,"month":10,"date":7,"hours":5,"minutes":55},
          {"year":2022,"month":10,"date":7,"hours":7,"minutes":15},
          {"year":2022,"month":10,"date":7,"hours":8,"minutes":35},
          {"year":2022,"month":10,"date":7,"hours":9,"minutes":55},
          {"year":2022,"month":10,"date":7,"hours":11,"minutes":15},
          {"year":2022,"month":10,"date":7,"hours":12,"minutes":35},
          {"year":2022,"month":10,"date":7,"hours":13,"minutes":55},
          {"year":2022,"month":10,"date":7,"hours":15,"minutes":15},
          {"year":2022,"month":10,"date":7,"hours":16,"minutes":35},
          {"year":2022,"month":10,"date":7,"hours":17,"minutes":55},
          {"year":2022,"month":10,"date":7,"hours":19,"minutes":15},
          {"year":2022,"month":10,"date":7,"hours":20,"minutes":35},
          {"year":2022,"month":10,"date":7,"hours":21,"minutes":55}],
          "labelExpr": "timeFormat(datum.value, '%-d %b %H:%M')", "labelAlign": "left", "labelBaseline": "top", "labelFontSize": 6.5, "tickSize": 2, "labelPadding": 0, "labelFlush": false, "labelOverlap": false, "labelBound": false, "grid": false, "domain": false, "tickColor": "#000000", "labelColor": "#000000"}},
  "y": {"field": "m", "type": "quantitative", "title": null,
        "scale": {"domain": [-0.000988, 0.000455], "nice": false, "zero": false, "padding": 0},
        "axis": {"orient": "right", "values": [0.00037, 0, -0.00085], "labelExpr": "datum.value == 0 ? '0.00' : format(datum.value, '.5f')", "labelFontSize": 5.7, "tickSize": 2, "labelPadding": -2, "grid": false, "domain": false, "tickColor": "#000000", "labelColor": "#000000", "labelFlush": false, "labelOverlap": false, "labelBound": false, "labelBaseline": "middle"}},
  "y2": {"datum": 0}
 }},
{"data": {"name": "bars"},
 "mark": {"type": "line", "color": "#ff3a3a", "strokeWidth": 1},
 "encoding": {"x": {"field": "t", "type": "temporal", "title": null},
  "y": {"field": "m", "type": "quantitative", "title": null}}},
{"data": {"name": "seps"},
 "mark": {"type": "rule", "color": "#80d850", "strokeWidth": 1, "strokeDash": [5, 2, 1, 2]},
 "encoding": {"x": {"field": "t", "type": "temporal", "title": null}}},
{"data": {"name": "days"},
 "mark": {"type": "rule", "color": "#2ee82e", "strokeWidth": 2},
 "encoding": {"x": {"field": "t", "type": "temporal", "title": null}}},
{"data": {"name": "days"},
 "mark": {"type": "point", "shape": "M-1,-0.17L1,-0.17L1,0.17L-1,0.17Z", "filled": true, "size": 2209, "opacity": 1, "strokeWidth": 0, "color": "#22e622", "clip": false},
 "encoding": {"x": {"field": "t", "type": "temporal", "title": null},
  "y": {"datum": -0.001065, "type": "quantitative"}}},
{"data": {"name": "days"},
 "mark": {"type": "text", "color": "#ffffff", "fontSize": 5.6, "align": "center", "baseline": "middle", "clip": false},
 "encoding": {"x": {"field": "t", "type": "temporal", "title": null},
  "y": {"datum": -0.001065, "type": "quantitative"},
  "text": {"field": "t", "type": "temporal", "format": "%Y.%m.%d %H:%M"}}},
{"data": {"values": [{"label": "MACD(21,34,1) -0.00030 -0.00030"}]},
 "mark": {"type": "text", "color": "#000000", "fontSize": 6, "align": "left", "baseline": "middle", "dx": 3, "dy": 6},
 "encoding": {"x": {"datum": {"year":2022,"month":10,"date":6,"hours":23,"minutes":16,"seconds":15}, "type": "temporal"},
  "y": {"datum": 0.000455, "type": "quantitative"},
  "text": {"field": "label"}}}
]
}
]
}
